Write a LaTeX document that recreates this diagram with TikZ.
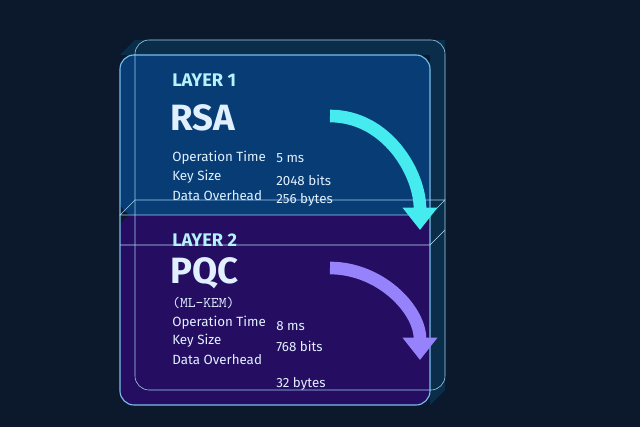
\documentclass[tikz,border=0pt]{standalone}
\usepackage{fontspec}
\setmainfont{Fira Sans}
\usetikzlibrary{positioning,calc,arrows.meta}
\definecolor{bgColor}{RGB}{12,24,44}
\definecolor{edgeColor}{RGB}{120,190,235}
\definecolor{cyanArrow}{RGB}{70,235,240}
\definecolor{purpleArrow}{RGB}{150,130,250}
\definecolor{txtColor}{RGB}{225,240,255}
\tikzset{
    layerTag/.style={text=txtColor!80!cyan, font=\fontsize{13}{13}\selectfont\bfseries, anchor=west, inner sep=0},
    algoName/.style={text=txtColor, font=\fontsize{26}{26}\selectfont\bfseries, anchor=west, inner sep=0},
    rowLabel/.style={text=txtColor, font=\fontsize{9.5}{10}\selectfont, anchor=west, inner sep=0},
    flowArrow/.style={line width=9pt, -{Triangle[length=16pt,width=24pt]}}
}
\begin{document}
\begin{tikzpicture}[x=0.025cm, y=-0.025cm]
    % Hintergrund
    \fill[bgColor] (0,0) rectangle (640,427);
    \useasboundingbox (0,0) rectangle (640,427);

    % Quader
    \fill[blue!50!cyan, opacity=0.35, rounded corners=10] (120,55) rectangle (430,215);
    \fill[blue!40!violet, opacity=0.40, rounded corners=10] (120,215) rectangle (430,405);
    \fill[cyan, opacity=0.15] (120,55) -- (135,40) -- (445,40) -- (430,55) -- cycle;
    \fill[cyan, opacity=0.15] (430,55) -- (445,40) -- (445,390) -- (430,405) -- cycle;
    \draw[edgeColor, thick, rounded corners=10] (120,55) rectangle (430,405);
    \draw[edgeColor!70, rounded corners=10] (135,40) rectangle (445,390);
    \draw[edgeColor!70] (430,215) -- (445,200) -- (135,200) -- (120,215) -- (430,215);
    \draw[edgeColor!50] (120,245) -- (430,245) -- (445,230);

    % Schicht 1
    \node[layerTag] (tag1) at (172,80) {LAYER 1};
    \node[algoName] (rsa) at (170,118) {RSA};
    \node[rowLabel] (op1) at (172,158) {Operation Time};
    \node[rowLabel] (key1) at (172,177) {Key Size};
    \node[rowLabel] (ovh1) at (172,196) {Data Overhead};
    \node[rowLabel] (opv1) at (276,158) {5 ms};
    \node[rowLabel] (keyv1) at (276,180) {2048 bits};
    \node[rowLabel] (ovhv1) at (276,200) {256 bytes};

    % Schicht 2
    \node[layerTag] (tag2) at (172,240) {LAYER 2};
    \node[algoName] (pqc) at (170,273) {PQC};
    \node[rowLabel, font=\fontsize{10.5}{11}\selectfont\ttfamily] (mlkem) at (172,303) {(ML-KEM)};
    \node[rowLabel] (op2) at (172,323) {Operation Time};
    \node[rowLabel] (key2) at (172,341) {Key Size};
    \node[rowLabel] (ovh2) at (172,360) {Data Overhead};
    \node[rowLabel] (opv2) at (276,326) {8 ms};
    \node[rowLabel] (keyv2) at (276,346) {768 bits};
    \node[rowLabel] (ovhv2) at (276,384) {32 bytes};

    % Pfeile
    \coordinate (a1s) at (330,116);
    \coordinate (a1e) at (420,230);
    \coordinate (a2s) at (330,268);
    \coordinate (a2e) at (420,360);
    \draw[flowArrow, cyanArrow] (a1s) to[out=0, in=90] (a1e);
    \draw[flowArrow, purpleArrow] (a2s) to[out=0, in=90] (a2e);
\end{tikzpicture}
\end{document}
